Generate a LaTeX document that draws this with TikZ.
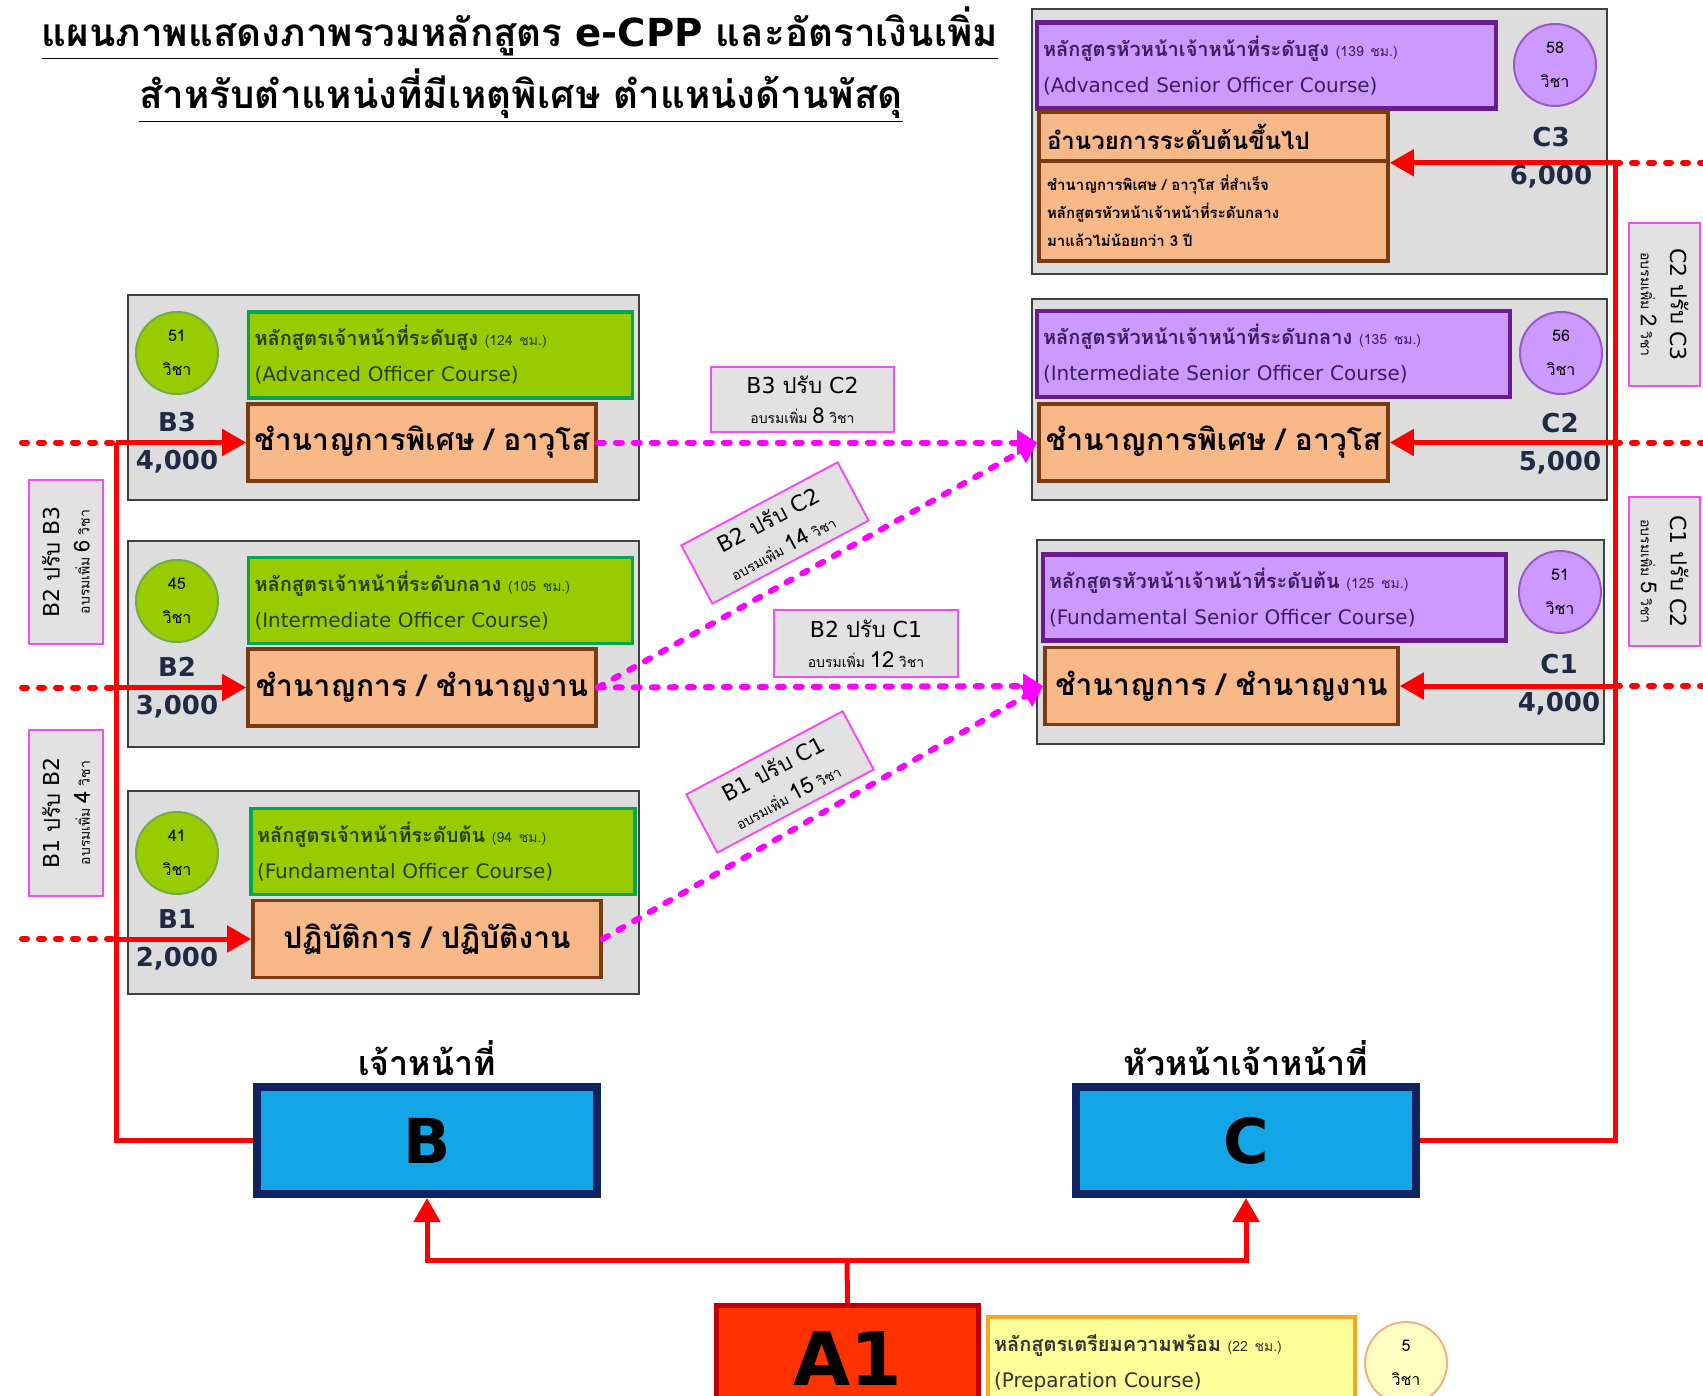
\documentclass[tikz,border=0pt]{standalone}
\usepackage{fontspec}
\setmainfont{DejaVu Sans}
\newfontfamily\thai[Script=Thai]{Loma}
\usetikzlibrary{arrows.meta,positioning}

\definecolor{panelgray}{HTML}{DDDDDD}
\definecolor{panelline}{HTML}{404040}
\definecolor{coursegreen}{HTML}{99CC00}
\definecolor{greenline}{HTML}{00A651}
\definecolor{greenring}{HTML}{70AD47}
\definecolor{greenink}{HTML}{25400A}
\definecolor{coursepurple}{HTML}{CC99FF}
\definecolor{purpleline}{HTML}{6A1B8F}
\definecolor{purplering}{HTML}{9B59C8}
\definecolor{purpleink}{HTML}{3B1F5C}
\definecolor{jobpeach}{HTML}{F8B888}
\definecolor{jobline}{HTML}{7A3A12}
\definecolor{levelink}{HTML}{1F2A44}
\definecolor{notegray}{HTML}{E2E2E2}
\definecolor{noteline}{HTML}{F050F0}
\definecolor{trackblue}{HTML}{13A5E6}
\definecolor{trackline}{HTML}{0F2460}
\definecolor{prepred}{HTML}{FF3300}
\definecolor{prepline}{HTML}{C00000}
\definecolor{prepyellow}{HTML}{FFFF99}
\definecolor{prepedge}{HTML}{F5A623}
\definecolor{prepring}{HTML}{F4B183}
\definecolor{arrowred}{HTML}{FF0000}
\definecolor{pathpink}{HTML}{FF00FF}

\newcommand\trainmore[1]{{\thai\fontsize{7}{9}\selectfont อบรมเพิ่ม {\fontsize{11}{9}\selectfont #1} วิชา}}

\begin{document}
\begin{tikzpicture}[x=0.5pt,y=-0.5pt,
panel/.style={rectangle,draw=panelline,line width=1pt,fill=panelgray,inner sep=0pt},
bcourse/.style={rectangle,draw=greenline,line width=1.8pt,fill=coursegreen,text=greenink,
  inner xsep=3pt,inner ysep=0pt,text width=186pt,minimum height=43pt,align=left,
  font=\fontsize{10}{18}\selectfont},
ccourse/.style={rectangle,draw=purpleline,line width=2.2pt,fill=coursepurple,text=purpleink,
  inner xsep=3pt,inner ysep=0pt,minimum height=43pt,align=left,
  font=\fontsize{10}{18}\selectfont},
job/.style={rectangle,draw=jobline,line width=1.8pt,fill=jobpeach,
  minimum width=174pt,minimum height=38.5pt,inner sep=0pt,
  font=\thai\bfseries\fontsize{15}{18}\selectfont},
subjects/.style={circle,line width=1pt,minimum size=41pt,inner sep=0pt,align=center,
  font=\thai\fontsize{8}{17}\selectfont},
bsubjects/.style={subjects,draw=greenring,fill=coursegreen},
csubjects/.style={subjects,draw=purplering,fill=coursepurple},
level/.style={align=center,text=levelink,font=\bfseries\fontsize{13}{19}\selectfont},
note/.style={rectangle,draw=noteline,line width=1pt,fill=notegray,inner sep=0pt,
  align=center,font=\fontsize{11}{15}\selectfont},
track/.style={rectangle,draw=trackline,line width=4pt,fill=trackblue,
  minimum width=170pt,minimum height=53.5pt,font=\bfseries\fontsize{31}{31}\selectfont},
heading/.style={font=\thai\bfseries\fontsize{17}{20}\selectfont},
redline/.style={draw=arrowred,line width=2.5pt},
redarrow/.style={redline,-{Triangle[length=12pt,width=13pt]}},
reddots/.style={draw=arrowred,line width=3pt,line cap=round,dash pattern=on 2.5pt off 6pt},
pinkdash/.style={draw=pathpink,line width=3pt,line cap=round,dash pattern=on 3pt off 6pt,
  -{Triangle[length=10pt,width=12pt]}}
]
\useasboundingbox (0,0) rectangle (1703,1396);

% title
\node (title1) at (520,33) {\thai\bfseries\fontsize{19.3}{24}\selectfont\underline{แผนภาพแสดงภาพรวมหลักสูตร {\rmfamily e-CPP} และอัตราเงินเพิ่ม}};
\node (title2) at (521,96) {\thai\bfseries\fontsize{19.3}{24}\selectfont\underline{สำหรับตำแหน่งที่มีเหตุพิเศษ ตำแหน่งด้านพัสดุ}};

% officer levels B
\node (b3panel) [panel,minimum width=255.5pt,minimum height=102.5pt] at (383.5,397.5) {};
\node (b2panel) [panel,minimum width=255.5pt,minimum height=103pt] at (383.5,644) {};
\node (b1panel) [panel,minimum width=255.5pt,minimum height=101.5pt] at (383.5,892.5) {};

\node (b3course) [bcourse] at (440.5,355) {{\thai\bfseries หลักสูตรเจ้าหน้าที่ระดับสูง} {\thai\fontsize{7}{18}\selectfont (124 ชม.)}\\(Advanced Officer Course)};
\node (b3job) [job] at (422,442.5) {ชำนาญการพิเศษ / อาวุโส};
\node (b3subjects) [bsubjects] at (177,353) {51\\วิชา};
\node (b3level) [level] at (177,443) {B3\\4,000};

\node (b2course) [bcourse] at (440.5,600.5) {{\thai\bfseries หลักสูตรเจ้าหน้าที่ระดับกลาง} {\thai\fontsize{7}{18}\selectfont (105 ชม.)}\\(Intermediate Officer Course)};
\node (b2job) [job] at (422,687.5) {ชำนาญการ / ชำนาญงาน};
\node (b2subjects) [bsubjects] at (177,601) {45\\วิชา};
\node (b2level) [level] at (177,688) {B2\\3,000};

\node (b1course) [bcourse] at (443,851.5) {{\thai\bfseries หลักสูตรเจ้าหน้าที่ระดับต้น} {\thai\fontsize{7}{18}\selectfont (94 ชม.)}\\(Fundamental Officer Course)};
\node (b1job) [job] at (427,939) {ปฏิบัติการ / ปฏิบัติงาน};
\node (b1subjects) [bsubjects] at (177,853) {41\\วิชา};
\node (b1level) [level] at (177,939.5) {B1\\2,000};

% senior levels C
\node (c3panel) [panel,minimum width=287.5pt,minimum height=132.5pt] at (1319.5,141.5) {};
\node (c2panel) [panel,minimum width=287.5pt,minimum height=100.5pt] at (1319.5,399.5) {};
\node (c1panel) [panel,minimum width=283.5pt,minimum height=102pt] at (1320.5,642) {};

\node (c3course) [ccourse,text width=223.5pt] at (1266.5,65.5) {{\thai\bfseries หลักสูตรหัวหน้าเจ้าหน้าที่ระดับสูง} {\thai\fontsize{7}{18}\selectfont (139 ชม.)}\\(Advanced Senior Officer Course)};
\node (c3top) [job,minimum height=24.5pt,inner xsep=4pt,text width=166.5pt,align=left,
  font=\thai\bfseries\fontsize{12}{14}\selectfont] at (1213.5,136.5) {อำนวยการระดับต้นขึ้นไป};
\node (c3cond) [job,minimum height=50pt,inner xsep=4pt,text width=166.5pt,align=left,
  font=\thai\bfseries\fontsize{7.5}{14}\selectfont] at (1213.5,211) {ชำนาญการพิเศษ / อาวุโส ที่สำเร็จ\\หลักสูตรหัวหน้าเจ้าหน้าที่ระดับกลาง\\มาแล้วไม่น้อยกว่า 3 ปี};
\node (c3subjects) [csubjects] at (1555,65) {58\\วิชา};
\node (c3level) [level] at (1551,158) {C3\\6,000};

\node (c2course) [ccourse,text width=230.5pt] at (1273.5,354) {{\thai\bfseries หลักสูตรหัวหน้าเจ้าหน้าที่ระดับกลาง} {\thai\fontsize{7}{18}\selectfont (135 ชม.)}\\(Intermediate Senior Officer Course)};
\node (c2job) [job,minimum width=174.5pt] at (1213.5,442.5) {ชำนาญการพิเศษ / อาวุโส};
\node (c2subjects) [csubjects] at (1561,353) {56\\วิชา};
\node (c2level) [level] at (1560,444) {C2\\5,000};

\node (c1course) [ccourse,text width=225.5pt] at (1274.5,597.5) {{\thai\bfseries หลักสูตรหัวหน้าเจ้าหน้าที่ระดับต้น} {\thai\fontsize{7}{18}\selectfont (125 ชม.)}\\(Fundamental Senior Officer Course)};
\node (c1job) [job,minimum width=176.5pt] at (1221.5,686) {ชำนาญการ / ชำนาญงาน};
\node (c1subjects) [csubjects] at (1560,592) {51\\วิชา};
\node (c1level) [level] at (1559,685) {C1\\4,000};

% tracks and preparation
\node (bbox) [track] at (427,1140.5) {B};
\node (cbox) [track] at (1246,1140.5) {C};
\node (bhead) [heading,above=0pt of bbox] {เจ้าหน้าที่};
\node (chead) [heading,above=0pt of cbox] {หัวหน้าเจ้าหน้าที่};

\node (a1box) [rectangle,draw=prepline,line width=2.5pt,fill=prepred,minimum width=131pt,
  minimum height=56pt,font=\bfseries\fontsize{37}{37}\selectfont] at (847.5,1361.5) {\raisebox{3pt}{A1}};
\node (prepcourse) [rectangle,draw=prepedge,line width=1.8pt,fill=prepyellow,text=black!80,
  inner xsep=3pt,inner ysep=0pt,text width=177.5pt,minimum height=46.5pt,align=left,
  font=\fontsize{10}{18}\selectfont] at (1171.5,1363.5) {{\thai\bfseries หลักสูตรเตรียมความพร้อม} {\thai\fontsize{7}{18}\selectfont (22 ชม.)}\\(Preparation Course)};
\node (prepsubjects) [subjects,draw=prepring,fill=prepyellow!60] at (1406,1363) {5\\วิชา};

% red rails
\coordinate (leftrail) at (116,1140.5);
\coordinate (leftend) at (22,0);
\coordinate (rightrail) at (1615,1140.5);
\coordinate (rightend) at (1703,0);
\coordinate (fork) at (847,1260);

\draw[redline] (bbox.west) -- (leftrail) -- (leftrail |- b3job.west);
\draw[redarrow] (leftrail |- b3job.west) -- (b3job.west);
\draw[redarrow] (leftrail |- b2job.west) -- (b2job.west);
\draw[redarrow] (leftrail |- b1job.west) -- (b1job.west);
\draw[reddots] (leftend |- b3job.west) -- (leftrail |- b3job.west);
\draw[reddots] (leftend |- b2job.west) -- (leftrail |- b2job.west);
\draw[reddots] (leftend |- b1job.west) -- (leftrail |- b1job.west);

\draw[redline] (cbox.east) -- (rightrail) -- (rightrail |- c3top.south east);
\draw[redarrow] (rightrail |- c3top.south east) -- (c3top.south east);
\draw[redarrow] (rightrail |- c2job.east) -- (c2job.east);
\draw[redarrow] (rightrail |- c1job.east) -- (c1job.east);
\draw[reddots] (rightrail |- c3top.south east) -- (rightend |- c3top.south east);
\draw[reddots] (rightrail |- c2job.east) -- (rightend |- c2job.east);
\draw[reddots] (rightrail |- c1job.east) -- (rightend |- c1job.east);

\draw[redline] (a1box.north) -- (fork);
\draw[redarrow] (fork) -| (bbox.south);
\draw[redarrow] (fork) -| (cbox.south);

% crossing paths
\draw[pinkdash] (b3job.east) -- (c2job.west);
\draw[pinkdash] (b2job.east) -- (c2job.west);
\draw[pinkdash] (b2job.east) -- (c1job.west);
\draw[pinkdash] (b1job.east) -- (c1job.west);

% notes
\node (b3toc2) [note,minimum width=91.5pt,minimum height=32.5pt] at (802.5,399.5) {B3 {\thai ปรับ} C2\\\trainmore{8}};
\node (b2toc2) [note,minimum width=88.5pt,minimum height=33pt,rotate=28] at (775,533) {B2 {\thai ปรับ} C2\\\trainmore{14}};
\node (b2toc1) [note,minimum width=92pt,minimum height=33.5pt] at (866,643.5) {B2 {\thai ปรับ} C1\\\trainmore{12}};
\node (b1toc1) [note,minimum width=88.5pt,minimum height=33pt,rotate=28] at (780,782) {B1 {\thai ปรับ} C1\\\trainmore{15}};
\node (b2tob3) [note,minimum width=82pt,minimum height=37pt,rotate=90] at (66,562) {B2 {\thai ปรับ} B3\\\trainmore{6}};
\node (b1tob2) [note,minimum width=83pt,minimum height=37pt,rotate=90] at (66,813) {B1 {\thai ปรับ} B2\\\trainmore{4}};
\node (c2toc3) [note,minimum width=81.5pt,minimum height=35.5pt,rotate=-90] at (1664.5,304.5) {C2 {\thai ปรับ} C3\\\trainmore{2}};
\node (c1toc2) [note,minimum width=74.5pt,minimum height=35.5pt,rotate=-90] at (1664.5,571.5) {C1 {\thai ปรับ} C2\\\trainmore{5}};
\end{tikzpicture}
\end{document}
